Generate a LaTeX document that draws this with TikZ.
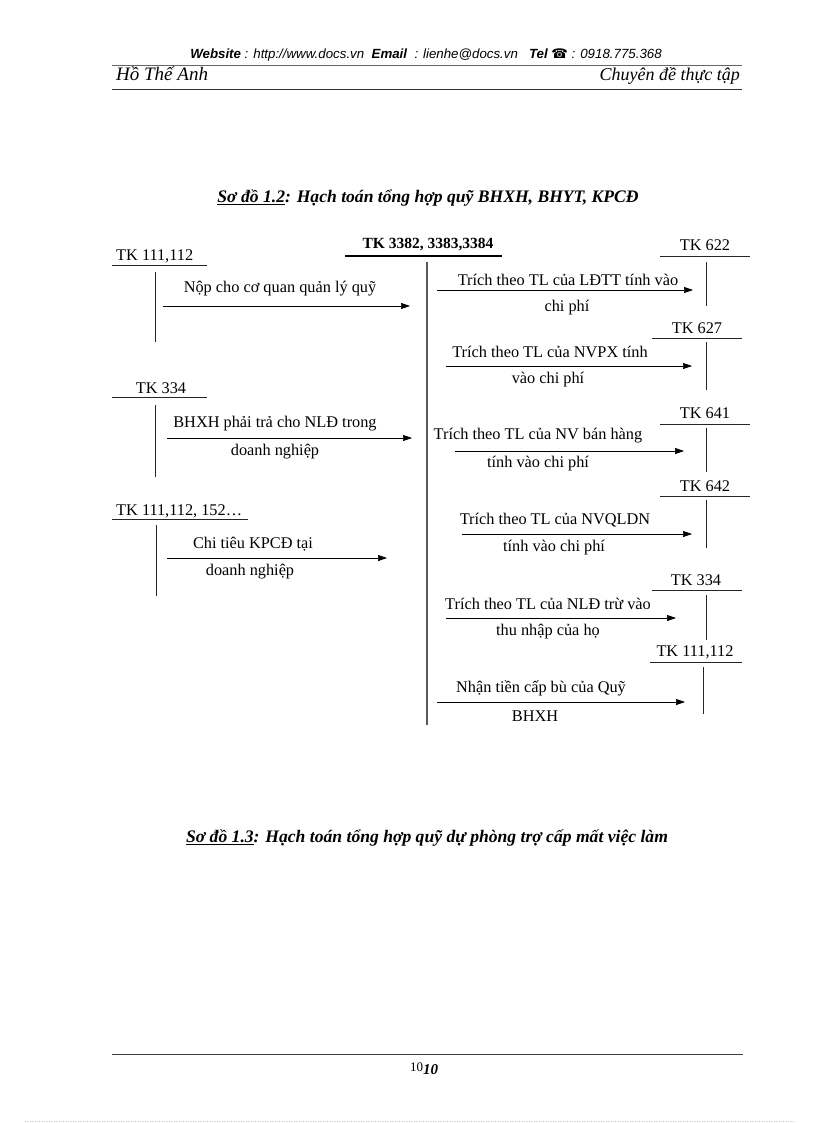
\documentclass[tikz,border=0pt]{standalone}
\usepackage{fontspec}
\setmainfont{Liberation Serif}
\newfontfamily\hsans{Liberation Sans}
\newfontfamily\dejavu{DejaVu Sans}
\usetikzlibrary{arrows.meta}
\begin{document}
\begin{tikzpicture}[x=1pt,y=-1pt,
  lbl/.style={inner sep=0pt, font=\fontsize{16.3}{19}\selectfont},
  tline/.style={line width=0.8pt, black!85},
  flow/.style={line width=0.7pt, -{Triangle[length=9pt,width=6pt]}},
  ttl/.style={inner sep=0pt, font=\fontsize{17.6}{20}\selectfont\bfseries\itshape}]
\useasboundingbox (0,0) rectangle (816,1123);
% header
\node[inner sep=0pt, font=\hsans\fontsize{13.3}{15}\selectfont\itshape] (web) at (426,55)
  {\textbf{Website} : http://www.docs.vn\ \ \textbf{Email}\ \ : lienhe@docs.vn\ \ \ \textbf{Tel} {\dejavu\bfseries ☎} : 0918.775.368};
\coordinate (h1a) at (112,65); \coordinate (h1b) at (742,65);
\draw[line width=0.5pt, black!60] (h1a) -- (h1b);
\node[inner sep=0pt, anchor=base west, font=\fontsize{19}{21}\selectfont\itshape] (author) at (116,81) {Hồ Thế Anh};
\node[inner sep=0pt, anchor=base east, font=\fontsize{18}{21}\selectfont\itshape] (topic) at (740,81) {Chuyên đề thực tập};
\coordinate (h2a) at (112,89); \coordinate (h2b) at (742,89);
\draw[line width=0.8pt, black!80] (h2a) -- (h2b);
% title 1
\node[ttl] (t1) at (428,198) {\underline{Sơ đồ 1.2}: Hạch toán tổng hợp quỹ BHXH, BHYT, KPCĐ};
% central account
\node[lbl, font=\fontsize{15.5}{18}\selectfont\bfseries] (c) at (428,245) {TK 3382, 3383,3384};
\coordinate (cu1) at (345,256); \coordinate (cu2) at (502,256);
\draw[line width=1.2pt] (cu1) -- (cu2);
\coordinate (cv1) at (427,262); \coordinate (cv2) at (427,725);
\draw[line width=1.8pt, black!65] (cv1) -- (cv2);
% left accounts
\node[lbl, anchor=west] (L1) at (116,256) {TK 111,112};
\coordinate (L1a) at (112,265); \coordinate (L1b) at (207,265);
\draw[tline] (L1a) -- (L1b);
\coordinate (L1t) at (155,272); \coordinate (L1d) at (155,342);
\draw[tline] (L1t) -- (L1d);
\coordinate (A1s) at (163,306); \coordinate (A1e) at (410,306);
\draw[flow] (A1s) -- (A1e);
\node[lbl] (a1) at (280,289) {Nộp cho cơ quan quản lý quỹ};

\node[lbl] (L2) at (161,388) {TK 334};
\coordinate (L2a) at (112,397); \coordinate (L2b) at (207,397);
\draw[tline] (L2a) -- (L2b);
\coordinate (L2t) at (155,405); \coordinate (L2d) at (155,477);
\draw[tline] (L2t) -- (L2d);
\coordinate (A2s) at (167,438); \coordinate (A2e) at (412,438);
\draw[flow] (A2s) -- (A2e);
\node[lbl] (a2a) at (275,424) {BHXH phải trả cho NLĐ trong};
\node[lbl] (a2b) at (275,452) {doanh nghiệp};

\node[lbl, anchor=west] (L3) at (116,511) {TK 111,112, 152…};
\coordinate (L3a) at (112,519); \coordinate (L3b) at (248,519);
\draw[tline] (L3a) -- (L3b);
\coordinate (L3t) at (156,525); \coordinate (L3d) at (156,596);
\draw[tline] (L3t) -- (L3d);
\coordinate (A3s) at (167,558); \coordinate (A3e) at (387,558);
\draw[flow] (A3s) -- (A3e);
\node[lbl] (a3a) at (253,544) {Chi tiêu KPCĐ tại};
\node[lbl] (a3b) at (250,572) {doanh nghiệp};
% right accounts
\node[lbl] (R1) at (705,245) {TK 622};
\coordinate (R1a) at (660,256); \coordinate (R1b) at (750,256);
\draw[tline] (R1a) -- (R1b);
\coordinate (R1t) at (706,262); \coordinate (R1d) at (706,306);
\draw[tline] (R1t) -- (R1d);
\coordinate (B1s) at (437,290); \coordinate (B1e) at (693,290);
\draw[flow] (B1s) -- (B1e);
\node[lbl] (b1a) at (568,280) {Trích\ theo TL của LĐTT tính vào};
\node[lbl] (b1b) at (567,308) {chi phí};

\node[lbl] (R2) at (697,328) {TK 627};
\coordinate (R2a) at (652,338); \coordinate (R2b) at (742,338);
\draw[tline] (R2a) -- (R2b);
\coordinate (R2t) at (706,342); \coordinate (R2d) at (706,390);
\draw[tline] (R2t) -- (R2d);
\coordinate (B2s) at (446,366); \coordinate (B2e) at (692,366);
\draw[flow] (B2s) -- (B2e);
\node[lbl] (b2a) at (550,352) {Trích\ theo TL của NVPX tính};
\node[lbl] (b2b) at (548,380) {vào chi phí};

\node[lbl] (R3) at (705,413) {TK 641};
\coordinate (R3a) at (660,424); \coordinate (R3b) at (750,424);
\draw[tline] (R3a) -- (R3b);
\coordinate (R3t) at (706,428); \coordinate (R3d) at (706,472);
\draw[tline] (R3t) -- (R3d);
\coordinate (B3s) at (455,451); \coordinate (B3e) at (684,451);
\draw[flow] (B3s) -- (B3e);
\node[lbl] (b3a) at (538,436) {Trích\ theo TL của NV bán hàng};
\node[lbl] (b3b) at (538,464) {tính\ vào chi\ phí};

\node[lbl] (R4) at (705,486) {TK 642};
\coordinate (R4a) at (660,496); \coordinate (R4b) at (750,496);
\draw[tline] (R4a) -- (R4b);
\coordinate (R4t) at (706,500); \coordinate (R4d) at (706,548);
\draw[tline] (R4t) -- (R4d);
\coordinate (B4s) at (462,534); \coordinate (B4e) at (692,534);
\draw[flow] (B4s) -- (B4e);
\node[lbl] (b4a) at (555,520) {Trích\ theo TL của NVQLDN};
\node[lbl] (b4b) at (554,548) {tính\ vào chi\ phí};

\node[lbl] (R5) at (696,580) {TK 334};
\coordinate (R5a) at (652,590); \coordinate (R5b) at (742,590);
\draw[tline] (R5a) -- (R5b);
\coordinate (R5t) at (706,595); \coordinate (R5d) at (706,640);
\draw[tline] (R5t) -- (R5d);
\coordinate (B5s) at (446,618); \coordinate (B5e) at (676,618);
\draw[flow] (B5s) -- (B5e);
\node[lbl] (b5a) at (548,604) {Trích\ theo TL của NLĐ trừ vào};
\node[lbl] (b5b) at (548,632) {thu\ nhập\ của họ};

\node[lbl] (R6) at (695,652) {TK 111,112};
\coordinate (R6a) at (650,662); \coordinate (R6b) at (742,662);
\draw[tline] (R6a) -- (R6b);
\coordinate (R6t) at (703,667); \coordinate (R6d) at (703,714);
\draw[tline] (R6t) -- (R6d);
\coordinate (B6s) at (437,702); \coordinate (B6e) at (685,702);
\draw[flow] (B6s) -- (B6e);
\node[lbl] (b6a) at (541,688) {Nhận tiền\ cấp bù của Quỹ};
\node[lbl] (b6b) at (535,716) {BHXH};
% title 2
\node[ttl] (t2) at (427,838) {\underline{Sơ đồ 1.3}: Hạch toán tổng hợp quỹ dự phòng trợ cấp mất việc làm};
% footer
\coordinate (f1) at (112,1054); \coordinate (f2) at (743,1054);
\draw[line width=0.8pt, black!75] (f1) -- (f2);
\node[inner sep=0pt, font=\fontsize{13}{15}\selectfont] (pg) at (424,1069) {10\raisebox{-3pt}{\fontsize{15}{17}\selectfont\bfseries\itshape 10}};
\coordinate (d1) at (25,1121); \coordinate (d2) at (795,1121);
\draw[black!25, line width=0.4pt, dotted] (d1) -- (d2);
\end{tikzpicture}
\end{document}
